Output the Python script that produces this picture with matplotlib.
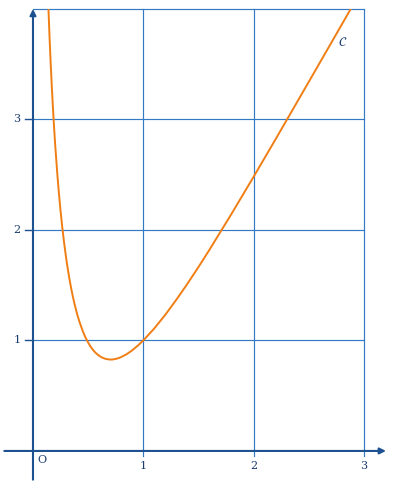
import matplotlib
matplotlib.use("Agg")
import matplotlib.pyplot as plt
from matplotlib.patches import Rectangle

# Curve points
curve_x = [0.12, 0.13, 0.14, 0.15, 0.16, 0.17, 0.18, 0.19, 0.20, 0.22, 0.235, 0.25,
           0.265, 0.28, 0.30, 0.315, 0.33, 0.345, 0.36, 0.38, 0.40, 0.42, 0.45,
           0.475, 0.50, 0.525, 0.55, 0.575, 0.60, 0.625, 0.65, 0.675, 0.70, 0.725,
           0.75, 0.775, 0.80, 0.85, 0.90, 0.95, 1.00, 1.10, 1.20, 1.30, 1.40, 1.50,
           1.60, 1.80, 2.00, 2.20, 2.40, 2.60, 2.80, 2.90]
curve_y = [4.616, 4.293, 4.006, 3.749, 3.518, 3.310, 3.121, 2.948, 2.790, 2.513,
           2.332, 2.172, 2.029, 1.901, 1.750, 1.650, 1.559, 1.478, 1.404, 1.316,
           1.240, 1.173, 1.088, 1.029, 0.981, 0.940, 0.907, 0.881, 0.861, 0.846,
           0.836, 0.830, 0.827, 0.828, 0.833, 0.840, 0.850, 0.876, 0.911, 0.953,
           1.000, 1.109, 1.233, 1.369, 1.513, 1.664, 1.821, 2.146, 2.481, 2.822,
           3.167, 3.513, 3.860, 4.034]

x_ticks = [1, 2, 3]
y_ticks = [1, 2, 3]
x_tick_labels = ["1", "2", "3"]
y_tick_labels = ["1", "2", "3"]

grid_c = "#3479c4"
axis_c = "#1e5190"
text_c = "#1b3c70"
curve_c = "#f07e14"

fig = plt.figure(figsize=(3.96, 4.82), dpi=100)
ax = fig.add_axes([0, 0, 1, 1])
ax.set_xlim(-0.299, 3.291)
ax.set_ylim(-0.281, 4.081)
ax.axis("off")

# grid
for xv in [1, 2, 3]:
    ax.plot([xv, xv], [-0.045, 4.0], color=grid_c, lw=0.85, zorder=1)
for yv in [1, 2, 3, 4]:
    ax.plot([0, 3], [yv, yv], color=grid_c, lw=0.85, zorder=1)
for yv in y_ticks:
    ax.plot([-0.075, 0], [yv, yv], color=axis_c, lw=1.0, zorder=1)

# axes with arrows
ax.annotate("", xy=(3.2, 0), xytext=(-0.26, 0),
            arrowprops=dict(arrowstyle="-|>", color=axis_c, lw=1.5,
                            mutation_scale=9, shrinkA=0, shrinkB=0), zorder=3)
ax.annotate("", xy=(0, 4.0), xytext=(0, -0.26),
            arrowprops=dict(arrowstyle="-|>", color=axis_c, lw=1.5,
                            mutation_scale=9, shrinkA=0, shrinkB=0), zorder=3)

# curve
line, = ax.plot(curve_x, curve_y, color=curve_c, lw=1.4, zorder=4)
clip = Rectangle((-0.3, -0.3), 3.6, 4.3, transform=ax.transData)
line.set_clip_path(clip)

# labels
font = dict(family="DejaVu Serif", color=text_c, fontsize=8)
for xv, lab in zip(x_ticks, x_tick_labels):
    ax.text(xv, -0.135, lab, ha="center", va="center", **font)
for yv, lab in zip(y_ticks, y_tick_labels):
    ax.text(-0.145, yv, lab, ha="center", va="center", **font)
ax.text(0.04, -0.035, "O", ha="left", va="top", **font)
ax.text(2.81, 3.70, r"$\mathcal{C}$", ha="center", va="center", color=text_c,
        fontsize=9, math_fontfamily="stix")

fig.savefig("out.png", dpi=100)
